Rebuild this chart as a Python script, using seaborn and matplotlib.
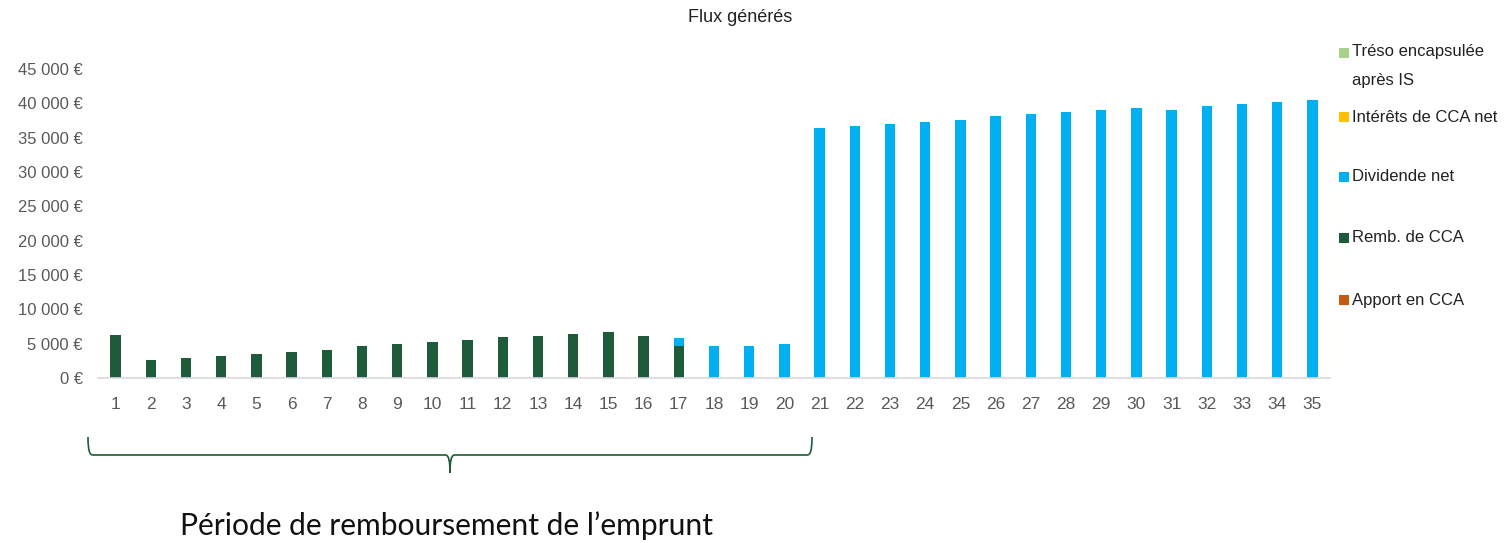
import matplotlib
matplotlib.use("Agg")
import matplotlib.pyplot as plt
from matplotlib.patches import Rectangle, PathPatch
from matplotlib.path import Path
import seaborn as sns
import pandas as pd

# Données du graphique
annees = list(range(1, 36))
remb_cca = [6200, 2650, 2950, 3250, 3550, 3850, 4150, 4700, 5000, 5300,
            5600, 5900, 6150, 6450, 6750, 6150, 4700] + [0] * 18
dividende_net = [0] * 16 + [1150, 4700, 4700, 5000,
                            36450, 36750, 37050, 37300, 37600, 38200, 38500, 38800,
                            39100, 39350, 39100, 39650, 39950, 40250, 40550]
treso_encapsulee = [0] * 35
interets_cca = [0] * 35
apport_cca = [0] * 35

series = ["Tréso encapsulée\naprès IS", "Intérêts de CCA net", "Dividende net",
          "Remb. de CCA", "Apport en CCA"]
couleurs = ["#A9D18E", "#FFC000", "#00B0F0", "#1E5B3A", "#C55A11"]

df = pd.DataFrame({"annee": [str(a) for a in annees],
                   "remb": remb_cca,
                   "div": dividende_net})
df["total"] = df["remb"] + df["div"]

sns.set_theme(style="white")
plt.rcParams["font.family"] = ["Liberation Sans", "DejaVu Sans"]

W, H = 1508, 543
fig = plt.figure(figsize=(W / 100, H / 100), dpi=100)
ax = fig.add_axes([98 / W, 1 - 378 / H, (1330 - 98) / W, (378 - 69) / H])

# Empilement : total (bleu) derrière, remboursement (vert) devant
sns.barplot(data=df, x="annee", y="total", color=couleurs[2], saturation=1,
            width=0.3, ax=ax, linewidth=0)
sns.barplot(data=df, x="annee", y="remb", color=couleurs[3], saturation=1,
            width=0.3, ax=ax, linewidth=0)

ax.set_xlim(-0.5, 34.5)
ax.set_ylim(0, 45000)
ax.set_yticks(range(0, 45001, 5000))
ax.set_yticklabels([f"{v:,}".replace(",", " ") + " €" for v in range(0, 45001, 5000)])
ax.set_xlabel("")
ax.set_ylabel("")
ax.tick_params(axis="y", labelsize=12, colors="#595959", length=0, pad=11)
ax.tick_params(axis="x", labelsize=12.5, colors="#595959", length=0, pad=14)
for s in ["top", "right", "left"]:
    ax.spines[s].set_visible(False)
ax.spines["bottom"].set_color("#D9D9D9")
ax.spines["bottom"].set_linewidth(1.2)

fig.text(740 / W, 1 - 18 / H, "Flux générés", ha="center", va="center",
         fontsize=13, color="#222222")

# Légende à droite
leg_y = [53, 117, 177, 238, 300]
for lab, c, y in zip(series, couleurs, leg_y):
    fig.add_artist(Rectangle((1339 / W, 1 - (y + 5) / H), 10 / W, 10 / H,
                             transform=fig.transFigure, facecolor=c,
                             edgecolor="none"))
    fig.text(1352 / W, 1 - y / H, lab, ha="left", va="top" if "\n" in lab else "center",
             fontsize=12, color="#222222", linespacing=2.2)
fig.texts[-5].set_y(1 - (53 - 9) / H)

# Accolade sous les années 1 à 21
def p(x, y):
    return (x / W, 1 - y / H)
verts = [p(88, 437), p(88, 452), p(90, 455), p(93, 455),
         p(446, 455), p(449, 456), p(450, 462), p(450, 473),
         p(450, 462), p(451, 456), p(454, 455),
         p(807, 455), p(810, 455), p(812, 452), p(812, 437)]
codes = [Path.MOVETO, Path.CURVE4, Path.CURVE4, Path.CURVE4,
         Path.LINETO, Path.CURVE4, Path.CURVE4, Path.CURVE4,
         Path.CURVE4, Path.CURVE4, Path.CURVE4,
         Path.LINETO, Path.CURVE4, Path.CURVE4, Path.CURVE4]
fig.add_artist(PathPatch(Path(verts, codes), transform=fig.transFigure,
                         facecolor="none", edgecolor="#1E5B3A", linewidth=1.2))

fig.text(180 / W, 1 - 526 / H, "Période de remboursement de l’emprunt",
         ha="left", va="center", fontsize=21.6, color="#111111",
         family=["Lato", "DejaVu Sans"])

fig.savefig("out.png", dpi=100)
